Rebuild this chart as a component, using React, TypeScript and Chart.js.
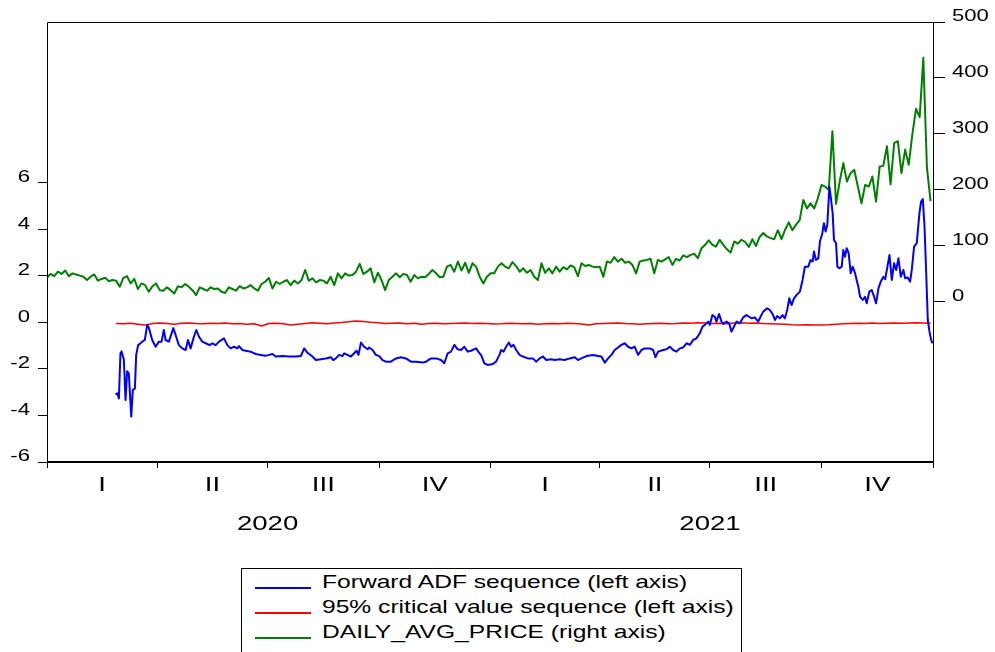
import React, { useEffect, useRef } from 'react';
import { Chart, registerables } from 'chart.js';

Chart.register(...registerables);

// ---- axis / category data ----
const QUARTER_BOUNDS = [0, 91, 182, 274, 366, 456, 547, 639, 731];
const QUARTER_LABELS = ['I', 'II', 'III', 'IV', 'I', 'II', 'III', 'IV'];
const YEAR_LABELS = ['2020', '2021'];
const YEAR_CENTERS = [182, 547];
const LEFT_TICKS = [-6, -4, -2, 0, 2, 4, 6];
const RIGHT_TICKS = [0, 100, 200, 300, 400, 500];

// ---- DAILY_AVG_PRICE (right axis), one reading every 3 days from 1 Jan 2020 ----
const PRICE_STEP = 3;
const DAILY_AVG_PRICE = [
  43, 50, 46, 54, 50, 56, 46, 51, 49, 47, 45, 39, 45, 49, 38, 41, 43, 37, 39, 38,
  27, 43, 46, 33, 41, 23, 33, 30, 18, 28, 33, 21, 20, 26, 21, 15, 28, 26, 32, 27,
  21, 12, 26, 23, 20, 26, 23, 24, 18, 16, 26, 23, 20, 28, 24, 26, 30, 24, 20, 32,
  36, 43, 24, 36, 32, 36, 39, 30, 38, 33, 39, 57, 38, 42, 35, 39, 38, 33, 45, 30,
  51, 42, 51, 47, 48, 54, 68, 50, 54, 60, 35, 52, 39, 21, 39, 45, 51, 44, 50, 48,
  36, 48, 42, 45, 44, 50, 57, 51, 44, 45, 63, 66, 54, 72, 56, 70, 52, 69, 63, 45,
  33, 45, 51, 51, 63, 69, 63, 60, 71, 64, 54, 60, 52, 57, 45, 39, 69, 52, 60, 51,
  63, 54, 62, 58, 65, 62, 46, 69, 64, 66, 63, 62, 63, 45, 72, 70, 80, 72, 77, 70,
  72, 66, 51, 72, 74, 75, 77, 51, 75, 72, 76, 80, 66, 77, 74, 83, 80, 84, 86, 78,
  96, 102, 110, 102, 99, 111, 102, 94, 88, 108, 104, 111, 107, 98, 112, 100, 116, 123, 117, 114,
  112, 128, 112, 129, 142, 128, 138, 146, 182, 167, 176, 167, 185, 209, 206, 200, 305, 175, 215, 248,
  215, 230, 236, 206, 176, 209, 206, 224, 179, 242, 243, 278, 210, 284, 287, 230, 272, 245, 300, 345,
  330, 436, 240, 180,
];

// ---- Forward ADF sequence (left axis): day index and value ----
const ADF_DAYS = [
  56.5, 58, 59.3, 60.6, 61.5, 63.4, 64.8, 66.1, 67.5, 69.5, 70.8, 72.5, 73.6, 75.2, 77.2, 78.5, 80.7, 82.7, 84.1, 86.8,
  89.6, 92.3, 94.5, 96.4, 97.8, 100.6, 104.2, 106.1, 108.8, 111.6, 114.4, 116.3, 118.5, 121.2, 123.2, 125.4, 128.1, 130.9, 134.2, 136.4,
  139.2, 141.9, 146, 148.8, 151.5, 154.3, 157, 158.4, 161.2, 163.9, 168, 172.2, 176.3, 180.4,
  183.2, 186, 188.7, 194.2, 199.8, 205.3, 209.4, 212.2, 214.9, 219, 221.8, 225.9, 230, 234.2, 236.1, 238.3, 241, 243.8, 245.2, 247.9,
  250.7, 253.4, 255.4, 257, 259, 261.7, 264.5, 265.8, 268.6, 271.3, 274.1, 276.8, 279.6, 283.7, 287.9, 292, 296.1, 300.3, 304.4, 309.9,
  312.7, 316.8, 320.9, 325.1, 327.8, 330.6, 333.3, 336.1, 338.8, 341.6, 344.3, 347.1, 349.8, 354,
  356.8, 358.1, 360.9, 363.6, 367.8, 370.5, 373.3, 374.7, 376.6, 378.8, 381, 383, 384.9, 387.1, 389.9, 392.6, 396.8, 400.9, 403.7, 406.4,
  409.2, 411.9, 416, 418.8, 422.9, 427.1, 431.2, 435.4, 438.1, 440.9, 445, 450.5, 454.7, 457.4, 460.2, 462.9, 465.7, 468.4, 471.1, 473.9,
  476.7, 479.4, 482.2, 484.9, 487.7, 490.4, 493.2, 497.3, 500.1, 502, 504.2, 508.4, 511.1, 513.9, 516.6, 519.4, 522.1, 524.9, 527.7, 530.4,
  533.1, 535.8, 538.6, 540.8, 542.7, 545.5, 546.8, 549, 551, 552.3, 554.5, 556.5, 557.9, 560.6, 562.8, 564.7, 566.7, 568.9, 571.6, 574.4,
  577.1, 579.3, 581.3, 584, 586.8, 588.7, 590.9, 594.2, 596.4, 598.6, 600.6, 602.5, 604.7, 606.9, 608.8, 610.7, 612.4, 614.3, 616.3, 618.5,
  621.2, 623.4, 625.3, 628.1, 630, 631.7, 632.8, 634.4, 636.4, 637.7, 639.7, 641, 642.4, 643.8, 645.5, 646.6, 648.2, 649.3, 651, 652.1,
  653.7, 655.7, 657, 658.4, 659.8, 661.4, 663.1, 664.7, 666.7, 668, 669.4, 670.8, 673, 674.9, 676.3, 678.5, 680.4, 682.4, 684, 686,
  687.9, 690.1, 691.5, 693.4, 695.1, 697, 698.9, 700.6, 702.5, 704.4, 706.6, 708, 709.9, 712.1, 713.5, 715.4, 717.6, 719.8, 721.2, 722.6,
  724, 725.4, 726.7, 728.1, 729.5, 730.6,
];
const ADF_VALUES = [
  -3.1, -3.05, -3.27, -1.33, -1.25, -1.6, -3.34, -2.1, -2.2, -4.05, -2.9, -2.85, -1.4, -0.98, -0.9, -0.83, -0.76, -0.1, -0.25, -0.76,
  -1.05, -0.83, -0.83, -0.33, -0.76, -0.83, -0.25, -0.54, -0.98, -1.12, -1.19, -0.76, -1.12, -0.62, -0.33, -0.62, -0.83, -0.9, -0.98, -0.9,
  -0.98, -0.83, -0.69, -0.98, -1.12, -1.05, -1.12, -1.02, -1.19, -1.22, -1.26, -1.36, -1.4, -1.44,
  -1.4, -1.36, -1.47, -1.45, -1.47, -1.47, -1.45, -1.12, -1.31, -1.47, -1.62, -1.59, -1.55, -1.5, -1.62, -1.55, -1.4, -1.45, -1.33, -1.4,
  -1.47, -1.33, -1.22, -1.4, -0.87, -1.05, -1.16, -1.08, -1.19, -1.4, -1.45, -1.62, -1.69, -1.69, -1.55, -1.5, -1.55, -1.69, -1.69, -1.73,
  -1.69, -1.55, -1.55, -1.62, -1.76, -1.33, -1.26, -0.97, -1.16, -1.19, -1.05, -1.26, -1.22, -1.12,
  -1.33, -1.4, -1.76, -1.83, -1.79, -1.69, -1.4, -1.19, -1.26, -1.05, -0.87, -1.05, -0.97, -1.19, -1.4, -1.47, -1.55, -1.55, -1.69, -1.55,
  -1.47, -1.62, -1.59, -1.62, -1.59, -1.62, -1.55, -1.5, -1.62, -1.55, -1.45, -1.4, -1.45, -1.47, -1.73, -1.55, -1.4, -1.19, -1.08, -0.97,
  -0.9, -1.05, -1.12, -1.05, -1.4, -1.19, -1.12, -1.12, -1.19, -1.5, -1.26, -1.19, -1.16, -1.05, -1.19, -1.26, -1.12, -1.08, -0.9, -0.97,
  -0.76, -0.69, -0.47, -0.19, -0.11, 0.03, -0.11, 0.31, 0.24, 0.03, 0.36, 0.03, -0.07, 0.03, -0.04, -0.4, -0.19, 0.03, -0.04, 0.21,
  0.31, 0.24, 0.17, 0.21, 0.03, 0.24, 0.46, 0.6, 0.53, 0.36, 0.1, 0.27, 0.17, 0.31, 0.17, 0.53, 1.03, 0.74, 1.03, 1.18,
  1.32, 1.82, 2.39, 2.39, 2.68, 2.61, 3.04, 2.68, 2.75, 3.47, 3.83, 4.26, 3.9, 4.19, 5.83, 5.4, 4.69, 3.54, 3.4, 2.39,
  2.32, 2.39, 3.11, 2.82, 3.18, 2.97, 2.11, 2.39, 2.11, 1.82, 1.53, 1.1, 0.96, 1.1, 0.82, 1.32, 1.39, 1.1, 0.82, 1.46,
  1.75, 1.96, 1.85, 2.39, 2.89, 1.82, 2.54, 2.25, 2.75, 1.96, 2.25, 1.89, 1.93, 1.75, 2.25, 3.25, 3.4, 4.69, 5.19, 5.29,
  4.11, 2.11, 0.1, -0.4, -0.76, -0.9,
];

// ---- 95% critical value sequence (left axis), one reading every 6 days from day 57 ----
const CV_START = 57;
const CV_STEP = 6;
const CV_VALUES = [
  -0.05, -0.06, -0.04, -0.08, -0.12, -0.05, -0.03, -0.05, -0.08, -0.04, -0.03, -0.05, -0.06, -0.04, -0.05, -0.03, -0.06, -0.05, -0.08, -0.06,
  -0.16, -0.05, -0.04, -0.06, -0.12, -0.08, -0.05, -0.02, -0.04, -0.06, -0.03, -0.01, 0.02, 0.06, 0.04, 0.0, -0.02, -0.05, -0.04, -0.03,
  -0.06, -0.04, -0.08, -0.05, -0.04, -0.06, -0.05, -0.04, -0.03, -0.05, -0.04, -0.05, -0.07, -0.06, -0.04, -0.05, -0.06, -0.05, -0.08, -0.06,
  -0.05, -0.06, -0.04, -0.05, -0.07, -0.12, -0.06, -0.05, -0.04, -0.03, -0.05, -0.06, -0.08, -0.06, -0.05, -0.04, -0.06, -0.05, -0.03, -0.04,
  -0.02, -0.03, -0.05, -0.04, -0.06, -0.03, -0.02, -0.04, -0.03, -0.05, -0.06, -0.07, -0.08, -0.1, -0.11, -0.1, -0.12, -0.11, -0.1, -0.08,
  -0.06, -0.05, -0.04, -0.05, -0.03, -0.05, -0.04, -0.03, -0.04, -0.03, -0.02, -0.03, -0.04,
];

const SERIES_NAMES = [
  'Forward ADF sequence (left axis)',
  '95% critical value sequence (left axis)',
  'DAILY_AVG_PRICE (right axis)',
];
const SERIES_COLORS = ['#0000ff', '#ff0000', '#008000'];

const TEXT_STRETCH = 1.38;
const LEGEND_STRETCH = 1.33;
const FONT_FAMILY = '"Liberation Sans", Arial, sans-serif';

const QUARTER_MIDS = QUARTER_BOUNDS.slice(0, -1).map((b, i) => (b + QUARTER_BOUNDS[i + 1]) / 2);

const stretchTextPlugin = {
  id: 'stretchText',
  beforeDraw(chart: any) {
    const ctx = chart.ctx as any;
    if (ctx.__stretched) return;
    const orig = ctx.fillText.bind(ctx);
    ctx.fillText = (text: string, x: number, y: number, maxWidth?: number) => {
      ctx.save();
      ctx.translate(x, y);
      ctx.scale(TEXT_STRETCH, 1);
      if (maxWidth !== undefined) orig(text, 0, 0, maxWidth);
      else orig(text, 0, 0);
      ctx.restore();
    };
    ctx.__stretched = true;
  },
};

const framePlugin = {
  id: 'frame',
  afterDraw(chart: any) {
    const { ctx, chartArea } = chart;
    const { left, right, top, bottom } = chartArea;
    ctx.save();
    ctx.strokeStyle = '#000';
    ctx.lineWidth = 1;
    ctx.beginPath();
    ctx.moveTo(Math.round(left) + 0.5, Math.round(bottom));
    ctx.lineTo(Math.round(left) + 0.5, Math.round(top) + 0.5);
    ctx.lineTo(Math.round(right) + 0.5, Math.round(top) + 0.5);
    ctx.lineTo(Math.round(right) + 0.5, Math.round(bottom));
    ctx.stroke();
    ctx.lineWidth = 2;
    ctx.beginPath();
    ctx.moveTo(Math.round(left), Math.round(bottom));
    ctx.lineTo(Math.round(right) + 1, Math.round(bottom));
    ctx.stroke();
    ctx.restore();
  },
};

export default function App() {
  const canvasRef = useRef<HTMLCanvasElement | null>(null);

  useEffect(() => {
    const canvas = canvasRef.current;
    if (!canvas) return;

    const priceData = DAILY_AVG_PRICE.map((v, i) => ({ x: i * PRICE_STEP, y: v }));
    const adfData = ADF_DAYS.map((d, i) => ({ x: d, y: ADF_VALUES[i] }));
    const cvData = CV_VALUES.map((v, i) => ({ x: CV_START + i * CV_STEP, y: v }));

    const tickFont = { family: FONT_FAMILY, size: 16, lineHeight: '10px' };

    const chart = new Chart(canvas, {
      type: 'line',
      data: {
        datasets: [
          {
            label: SERIES_NAMES[0],
            data: adfData,
            borderColor: SERIES_COLORS[0],
            borderWidth: 2,
            pointRadius: 0,
            yAxisID: 'y',
            order: 0,
          },
          {
            label: SERIES_NAMES[1],
            data: cvData,
            borderColor: SERIES_COLORS[1],
            borderWidth: 1.5,
            pointRadius: 0,
            yAxisID: 'y',
            order: 1,
          },
          {
            label: SERIES_NAMES[2],
            data: priceData,
            borderColor: SERIES_COLORS[2],
            borderWidth: 2,
            pointRadius: 0,
            yAxisID: 'y2',
            order: 2,
          },
        ],
      },
      options: {
        responsive: false,
        animation: false,
        devicePixelRatio: 1,
        layout: { padding: { top: 22, left: 0, right: 0, bottom: 0 } },
        plugins: {
          legend: { display: false },
          tooltip: { enabled: false },
        },
        elements: { line: { tension: 0, borderJoinStyle: 'round' } },
        scales: {
          x: {
            type: 'linear',
            min: 0,
            max: 731,
            position: 'bottom',
            border: { display: false },
            grid: {
              display: true,
              drawOnChartArea: false,
              drawTicks: true,
              tickLength: 6,
              tickWidth: 1,
              tickColor: (c: any) =>
                c.tick && QUARTER_BOUNDS.includes(c.tick.value) ? '#000' : 'rgba(0,0,0,0)',
            },
            afterBuildTicks: (scale: any) => {
              const vals = [...QUARTER_BOUNDS, ...QUARTER_MIDS].sort((a, b) => a - b);
              scale.ticks = vals.map((v) => ({ value: v }));
            },
            afterFit: (scale: any) => {
              scale.height = 98;
            },
            ticks: {
              autoSkip: false,
              maxRotation: 0,
              minRotation: 0,
              padding: -2,
              color: '#000',
              font: { family: FONT_FAMILY, size: 20, lineHeight: '39px' },
              callback: (value: any) => {
                const qi = QUARTER_MIDS.indexOf(value);
                if (qi >= 0) return QUARTER_LABELS[qi];
                const yi = YEAR_CENTERS.indexOf(value);
                if (yi >= 0) return ['', YEAR_LABELS[yi]];
                return '';
              },
            },
          },
          y: {
            type: 'linear',
            position: 'left',
            min: -6,
            max: 12.9,
            border: { display: false },
            grid: {
              display: true,
              drawOnChartArea: false,
              drawTicks: true,
              tickLength: 9,
              tickColor: '#000',
            },
            afterBuildTicks: (scale: any) => {
              scale.ticks = LEFT_TICKS.map((v) => ({ value: v }));
            },
            afterFit: (scale: any) => {
              scale.width = 47;
            },
            ticks: {
              padding: 8,
              color: '#000',
              font: tickFont,
              callback: (value: any) => [String(value), ''],
            },
          },
          y2: {
            type: 'linear',
            position: 'right',
            min: -286,
            max: 500,
            border: { display: false },
            grid: {
              display: true,
              drawOnChartArea: false,
              drawTicks: true,
              tickLength: 12,
              tickColor: '#000',
            },
            afterBuildTicks: (scale: any) => {
              scale.ticks = RIGHT_TICKS.map((v) => ({ value: v }));
            },
            afterFit: (scale: any) => {
              scale.width = 62;
            },
            ticks: {
              padding: 7,
              color: '#000',
              font: tickFont,
              callback: (value: any) => [String(value), ''],
            },
          },
        },
      },
      plugins: [stretchTextPlugin, framePlugin],
    } as any);

    return () => {
      chart.destroy();
    };
  }, []);

  const rowTop = (i: number) => 568.5 + i * 25.3;

  return (
    <div
      style={{
        position: 'absolute',
        left: 0,
        top: 0,
        width: 995,
        height: 652,
        overflow: 'hidden',
        background: '#fff',
      }}
    >
      <canvas
        ref={canvasRef}
        width={995}
        height={560}
        style={{ position: 'absolute', left: 0, top: 0, width: 995, height: 560, display: 'block' }}
      />
      <div
        style={{
          position: 'absolute',
          left: 241,
          top: 568,
          width: 501,
          height: 120,
          border: '1px solid #000',
          boxSizing: 'border-box',
          background: '#fff',
        }}
      />
      {SERIES_NAMES.map((name, i) => (
        <React.Fragment key={name}>
          <div
            style={{
              position: 'absolute',
              left: 255,
              top: Math.round(rowTop(i) + 18),
              width: 56,
              height: 2,
              background: SERIES_COLORS[i],
            }}
          />
          <div
            style={{
              position: 'absolute',
              left: 322,
              top: rowTop(i),
              height: 25.3,
              lineHeight: '25.3px',
              fontFamily: FONT_FAMILY,
              fontSize: 18.5,
              color: '#000',
              whiteSpace: 'nowrap',
              transform: `scaleX(${LEGEND_STRETCH})`,
              transformOrigin: 'left center',
            }}
          >
            {name}
          </div>
        </React.Fragment>
      ))}
    </div>
  );
}
